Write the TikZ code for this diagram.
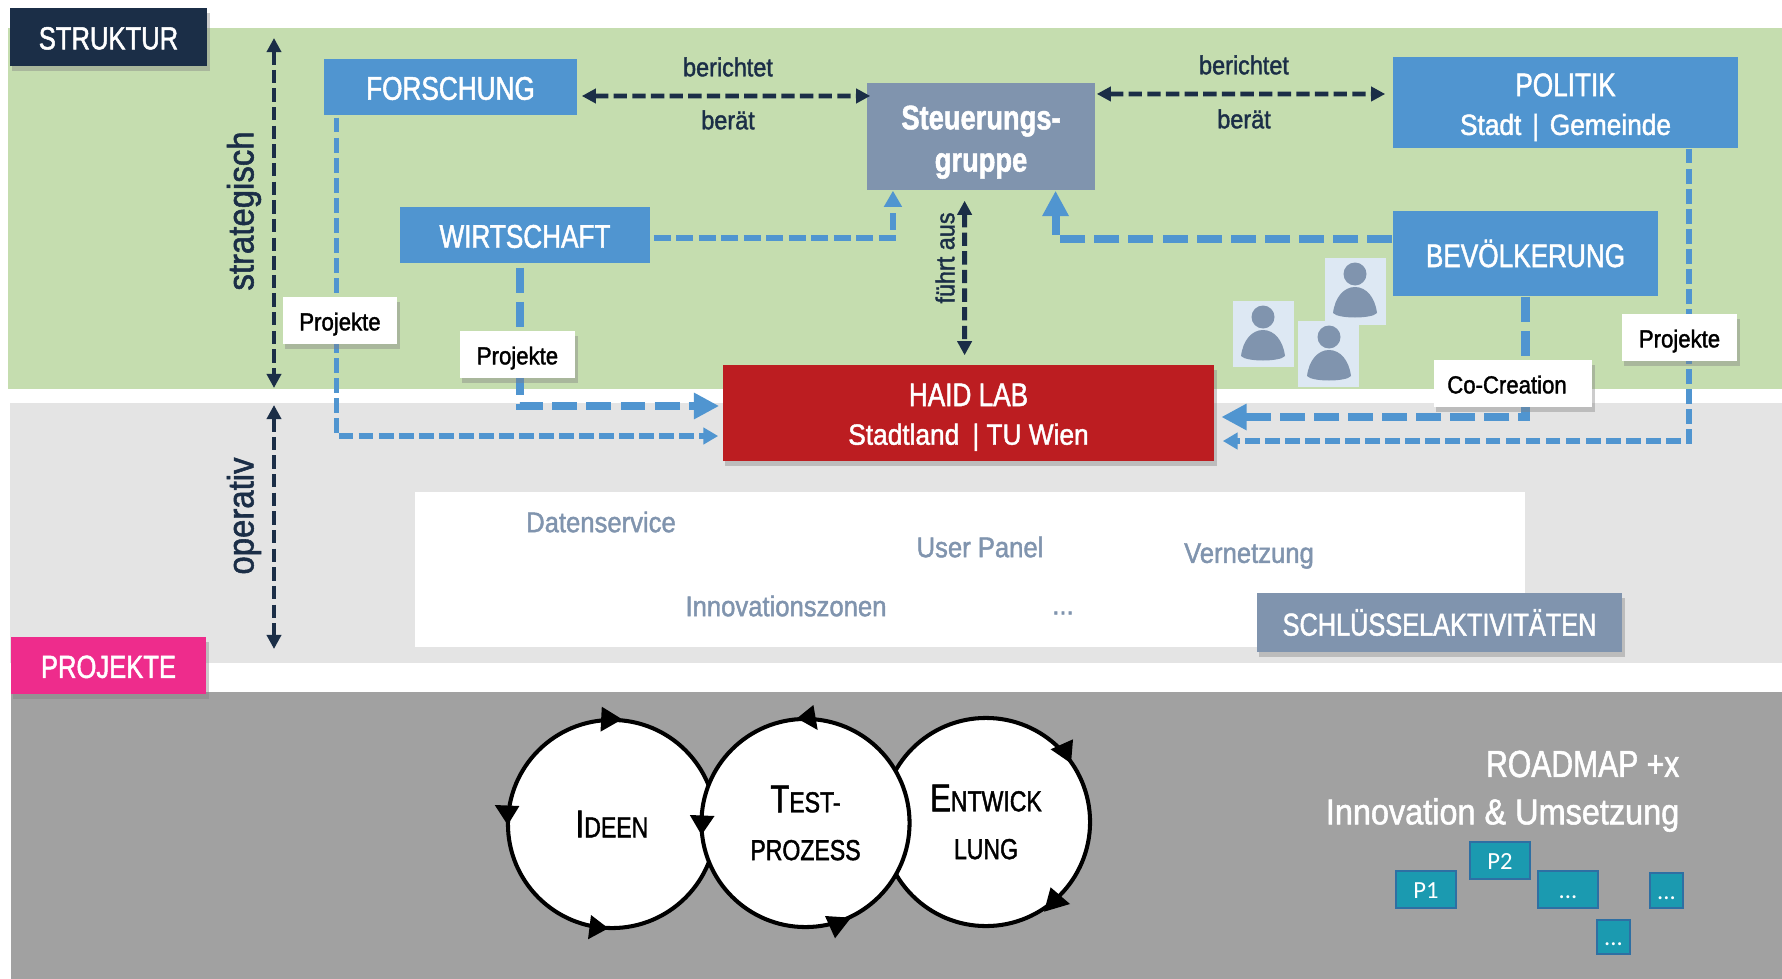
\documentclass[tikz,border=0pt]{standalone}
\usepackage{fontspec}
\usetikzlibrary{arrows.meta,shadows}
\setmainfont{Liberation Sans}[FakeStretch=0.9,FakeBold=1.5]
\newfontfamily\capsfont{Liberation Sans}[FakeStretch=0.8,FakeBold=1.5]
\newfontfamily\panelfont{Carlito}
\definecolor{bandgreen}{HTML}{C5DDAF}
\definecolor{bandgrey}{HTML}{E4E4E4}
\definecolor{banddark}{HTML}{A1A1A1}
\definecolor{boxblue}{HTML}{5095D0}
\definecolor{navy}{HTML}{1B2E47}
\definecolor{slate}{HTML}{8094AE}
\definecolor{labred}{HTML}{BC1D21}
\definecolor{pink}{HTML}{EE2C8C}
\definecolor{tile}{HTML}{DDE8F3}
\definecolor{teal}{HTML}{1B9AB0}
\definecolor{tealedge}{HTML}{2E6FA3}
\newcommand{\subfont}{\rmfamily\fontsize{8.3}{11}\selectfont}
\newcommand{\capinit}[1]{{\fontsize{11}{14}\selectfont #1}}
\tikzset{
	softshadow/.style={drop shadow={shadow xshift=0.025cm,shadow yshift=-0.05cm,opacity=0.4}},
	titlebox/.style={inner sep=0pt,text=white,softshadow,text height=7.05pt,text depth=0pt,font=\capsfont\fontsize{9.1}{11}\selectfont},
	bluebox/.style={fill=boxblue,inner sep=0pt,text=white,align=center,font=\capsfont\fontsize{9.3}{11}\selectfont},
	oneline/.style={text height=7.25pt,text depth=0pt},
	notebox/.style={fill=white,inner sep=0pt,softshadow,minimum height=0.47cm,text height=5.6pt,text depth=0pt,font=\fontsize{7}{9}\selectfont},
	linklabel/.style={text=navy,inner sep=0pt,font=\fontsize{7.4}{9}\selectfont},
	sidelabel/.style={text=navy,inner sep=0pt,rotate=90,font=\fontsize{10.4}{12}\selectfont},
	activity/.style={text=slate,inner sep=0pt,font=\fontsize{8.1}{11}\selectfont},
	cyclecircle/.style={draw=black,line width=1.15pt,fill=white,circle,minimum size=2.08cm,inner sep=0pt,align=center,font=\capsfont\fontsize{8.2}{13.6}\selectfont},
	projectbox/.style={draw=tealedge,line width=0.5pt,fill=teal,inner sep=0pt,text=white,text height=5pt,text depth=0pt,font=\panelfont\fontsize{7}{9}\selectfont},
	persontile/.style={fill=tile,inner sep=0pt,minimum width=0.61cm,minimum height=0.66cm},
	darkdash/.style={draw=navy,line width=1.4pt,dash pattern=on 3.8pt off 1.5pt,{Triangle[length=4pt,width=4pt]}-{Triangle[length=4pt,width=4pt]}},
	thindash/.style={draw=boxblue,line width=1.5pt,dash pattern=on 4.2pt off 1.5pt,-{Triangle[length=4.2pt,width=4.6pt]}},
	middash/.style={draw=boxblue,line width=1.7pt,dash pattern=on 4.8pt off 1.6pt,-{Triangle[length=4.6pt,width=4.9pt]}},
	thickdash/.style={draw=boxblue,line width=2.3pt,dash pattern=on 7.1pt off 2.6pt,-{Triangle[length=7.2pt,width=7.1pt]}},
	person/.pic={
		\fill[slate] (0,0) circle (11.5);
		\fill[slate] (-22,39) .. controls (-20,23) and (-11,13) .. (0,13) .. controls (11,13) and (20,23) .. (22,39) .. controls (17,45) and (-17,45) .. (-22,39) -- cycle;
	}
}
\begin{document}
\begin{tikzpicture}[x=0.01cm,y=-0.01cm]
	\useasboundingbox (0,0) rectangle (1782,979);
	\fill[bandgreen] (7.5,28) rectangle (1782,389);
	\fill[bandgrey] (10,403) rectangle (1782,663);
	\fill[banddark] (11,692) rectangle (1782,979);
	\fill[white] (415,492) rectangle (1525,647);

	\node[titlebox,fill=navy,minimum width=1.97cm,minimum height=0.58cm] at (108.5,37) (struktur) {STRUKTUR};
	\node[titlebox,fill=pink,minimum width=1.95cm,minimum height=0.57cm] at (108.5,665.5) (projekte) {PROJEKTE};

	\node[bluebox,oneline,minimum width=2.53cm,minimum height=0.56cm] at (450.5,87) (forschung) {FORSCHUNG};
	\node[bluebox,oneline,minimum width=2.5cm,minimum height=0.56cm] at (525,235) (wirtschaft) {WIRTSCHAFT};
	\node[bluebox,minimum width=3.45cm,minimum height=0.91cm] at (1565.5,102.5) (politik) {\rule{0pt}{9.2pt}POLITIK\\{\subfont Stadt\hspace{1pt} | \hspace{1pt}Gemeinde}};
	\node[bluebox,minimum width=2.65cm,minimum height=0.85cm] at (1525.5,253.5) (bevoelkerung) {BEVÖLKERUNG};
	\node[fill=slate,inner sep=0pt,text=white,align=center,minimum width=2.28cm,minimum height=1.07cm,font=\capsfont\bfseries\fontsize{9.7}{12}\selectfont] at (981,136.5) (steuerung) {\rule{0pt}{10pt}Steuerungs-\\gruppe};
	\node[bluebox,fill=labred,softshadow,minimum width=4.91cm,minimum height=0.96cm] at (968.5,413) (haid) {\rule{0pt}{8.8pt}HAID LAB\\{\subfont Stadtland\hspace{0.2em} | TU Wien}};

	\coordinate (strategTop) at (274,38);
	\coordinate (strategBottom) at (274,388);
	\coordinate (operatTop) at (274,405);
	\coordinate (operatBottom) at (274,649);
	\draw[darkdash] (strategTop) -- (strategBottom);
	\draw[darkdash] (operatTop) -- (operatBottom);
	\node[sidelabel] at (244,211) (strategisch) {strategisch};
	\node[sidelabel] at (244,516) (operativ) {operativ};

	\draw[darkdash,shorten <=0.04cm,shorten >=-0.04cm] ([yshift=-0.09cm]forschung.east) -- ([yshift=0.405cm]steuerung.west);
	\draw[darkdash,shorten <=0.01cm,shorten >=0.07cm] ([yshift=0.425cm]steuerung.east) -- ([yshift=0.085cm]politik.west);
	\draw[darkdash,shorten <=0.10cm,shorten >=0.09cm] ([xshift=-0.164cm]steuerung.south) -- ([xshift=-0.039cm]haid.north);
	\node[linklabel] at (728,67) (berichtetA) {berichtet};
	\node[linklabel] at (728,120) (beraetA) {berät};
	\node[linklabel] at (1244,65) (berichtetB) {berichtet};
	\node[linklabel] at (1244,119) (beraetB) {berät};
	\node[linklabel,rotate=90] at (945,258) (fuehrt) {führt aus};

	\draw[thindash,shorten <=0.02cm,shorten >=0.04cm] ([xshift=0.13cm]forschung.south west) |- ([yshift=-0.23cm]haid.west);
	\draw[thickdash,shorten <=0.04cm,shorten >=0.03cm] ([xshift=-0.05cm]wirtschaft.south) |- ([yshift=0.07cm]haid.west);
	\draw[middash,shorten <=0.03cm] ([yshift=-0.03cm]wirtschaft.east) -| ([xshift=-0.88cm]steuerung.south);
	\draw[thickdash] ([yshift=0.145cm]bevoelkerung.west) -| ([xshift=0.745cm]steuerung.south);
	\draw[thickdash,shorten >=0.065cm] (bevoelkerung.south) |- ([yshift=-0.04cm]haid.east);
	\draw[thindash,shorten >=0.08cm] ([xshift=1.235cm]politik.south) |- ([yshift=-0.28cm]haid.east);

	\node[notebox,minimum width=1.14cm] at (340,320.5) (projektA) {Projekte};
	\node[notebox,minimum width=1.15cm] at (517.5,354.5) (projektB) {Projekte};
	\node[notebox,minimum width=1.15cm] at (1679.5,337.5) (projektC) {Projekte};
	\node[notebox,minimum width=1.58cm] at (1513,383.5) (cocreation) {Co-Creation\hspace{0.12cm}\null};

	\node[persontile] at (1263.5,334) (tileA) {};
	\node[persontile] at (1328.5,354) (tileB) {};
	\node[persontile] at (1355,291.5) (tileC) {};
	\pic at (1263,317) {person};
	\pic at (1329,337) {person};
	\pic at (1355,274) {person};

	\node[activity] at (601,522) (datenservice) {Datenservice};
	\node[activity] at (980,547) (userpanel) {User Panel};
	\node[activity] at (1249,556) (vernetzung) {Vernetzung};
	\node[activity] at (786,606) (innovationszonen) {Innovationszonen};
	\node[activity] at (1063,613) (weitere) {...};
	\node[fill=slate,inner sep=0pt,text=white,softshadow,minimum width=3.65cm,minimum height=0.59cm,font=\capsfont\fontsize{9}{11}\selectfont] at (1439.5,622.5) (schluessel) {SCHLÜSSELAKTIVITÄTEN};

	\node[cyclecircle] at (986,822) (entwicklung) {\capinit{E}NTWICK\\LUNG};
	\node[cyclecircle] at (612,824) (ideen) {\capinit{I}DEEN};
	\node[cyclecircle] at (805.5,823) (test) {\capinit{T}EST-\\PROZESS};
	\fill[black] (601.8,706.7) -- (600.5,731.7) -- (622.2,719.3) -- cycle;
	\fill[black] (494.7,805) -- (519.4,806) -- (507.7,825) -- cycle;
	\fill[black] (591,915) -- (588,939.3) -- (608.3,928.3) -- cycle;
	\fill[black] (813.4,705) -- (817.7,730) -- (797,718.3) -- cycle;
	\fill[black] (689.8,815) -- (714.5,816) -- (701.5,835) -- cycle;
	\fill[black] (825,916) -- (851,917.7) -- (835,938.3) -- cycle;
	\fill[black] (1073,739.3) -- (1050.6,749.3) -- (1071,763.3) -- cycle;
	\fill[black] (1050.6,887.3) -- (1070,904) -- (1044,911.7) -- cycle;

	\node[text=white,inner sep=0pt,anchor=east,font=\capsfont\fontsize{10.7}{12}\selectfont] at (1680,764) (roadmap) {ROADMAP +x};
	\node[text=white,inner sep=0pt,anchor=east,font=\fontsize{10.25}{12}\selectfont] at (1680,815) (umsetzung) {Innovation \& Umsetzung};

	\node[projectbox,minimum width=0.6cm,minimum height=0.37cm] at (1426,889.5) (pA) {P1};
	\node[projectbox,minimum width=0.6cm,minimum height=0.37cm] at (1500,860.5) (pB) {P2};
	\node[projectbox,minimum width=0.6cm,minimum height=0.37cm] at (1568,889.5) (pC) {...};
	\node[projectbox,minimum width=0.33cm,minimum height=0.35cm] at (1666.5,890.5) (pD) {...};
	\node[projectbox,minimum width=0.33cm,minimum height=0.34cm] at (1613.5,937) (pE) {...};
\end{tikzpicture}
\end{document}
